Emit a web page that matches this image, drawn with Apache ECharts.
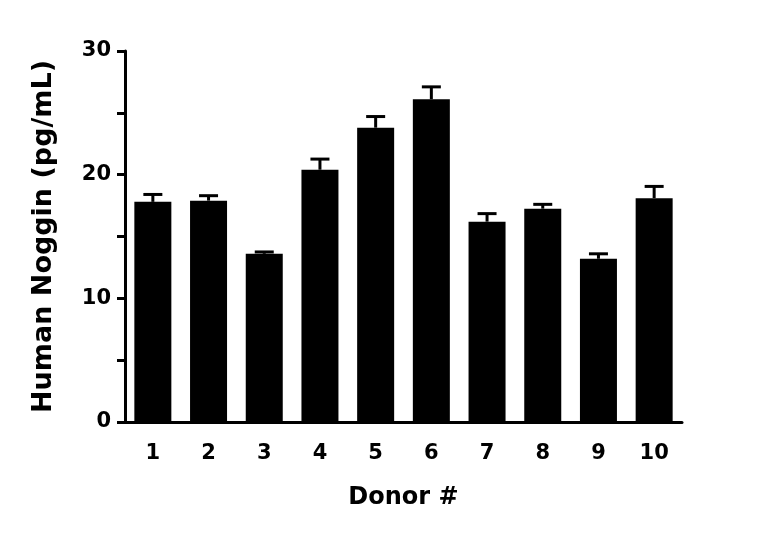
<!DOCTYPE html>
<html>
<head>
<meta charset="utf-8">
<script src="https://cdn.jsdelivr.net/npm/echarts@6/dist/echarts.min.js"></script>
<style>html,body{margin:0;padding:0;background:#fff;}#c{width:768px;height:544px;}</style>
</head>
<body>
<div id="c"></div>
<script>
const categories = ['1','2','3','4','5','6','7','8','9','10'];
const means = [17.8, 17.9, 13.6, 20.4, 23.8, 26.1, 16.2, 17.25, 13.2, 18.1];
const upper = [18.4, 18.3, 13.75, 21.26, 24.7, 27.1, 16.85, 17.6, 13.6, 19.05];
const yTicks = [0, 10, 20, 30];

const FONT = 'DejaVu Sans';
const chart = echarts.init(document.getElementById('c'), null, {renderer: 'canvas'});
chart.setOption({
  animation: false,
  grid: {left: 125, right: 86, top: 51, bottom: 122},
  xAxis: {
    type: 'category',
    data: categories,
    name: 'Donor #',
    nameLocation: 'middle',
    nameGap: 64,
    nameTextStyle: {fontFamily: FONT, fontWeight: 'bold', fontSize: 24, color: '#000'},
    axisLine: {lineStyle: {color: '#000', width: 3}},
    axisTick: {alignWithLabel: true, length: 10, lineStyle: {color: '#000', width: 3}},
    axisLabel: {fontFamily: FONT, fontWeight: 'bold', fontSize: 21, color: '#000', margin: 21}
  },
  yAxis: {
    type: 'value',
    min: 0, max: 30, interval: 5,
    name: 'Human Noggin (pg/mL)',
    nameLocation: 'middle',
    nameGap: 68,
    nameTextStyle: {fontFamily: FONT, fontWeight: 'bold', fontSize: 27, color: '#000'},
    axisLine: {show: true, lineStyle: {color: '#000', width: 3}},
    axisTick: {show: true, length: 8, lineStyle: {color: '#000', width: 3}},
    splitLine: {show: false},
    axisLabel: {
      fontFamily: FONT, fontWeight: 'bold', fontSize: 21, color: '#000', margin: 14,
      formatter: v => yTicks.includes(v) ? String(v) : ''
    }
  },
  series: [
    {
      type: 'bar',
      data: means,
      barWidth: 37,
      itemStyle: {color: '#000'}
    },
    {
      type: 'custom',
      data: means.map((m, i) => [i, m, upper[i]]),
      renderItem: function (params, api) {
        const x = api.value(0);
        const base = api.coord([x, api.value(1)]);
        const top = api.coord([x, api.value(2)]);
        const hw = 9.5;
        const style = {stroke: '#000', lineWidth: 3};
        return {
          type: 'group',
          children: [
            {type: 'line', shape: {x1: base[0], y1: base[1], x2: top[0], y2: top[1]}, style: style},
            {type: 'line', shape: {x1: top[0] - hw, y1: top[1], x2: top[0] + hw, y2: top[1]}, style: style}
          ]
        };
      },
      z: 3
    }
  ]
});
</script>
</body>
</html>
